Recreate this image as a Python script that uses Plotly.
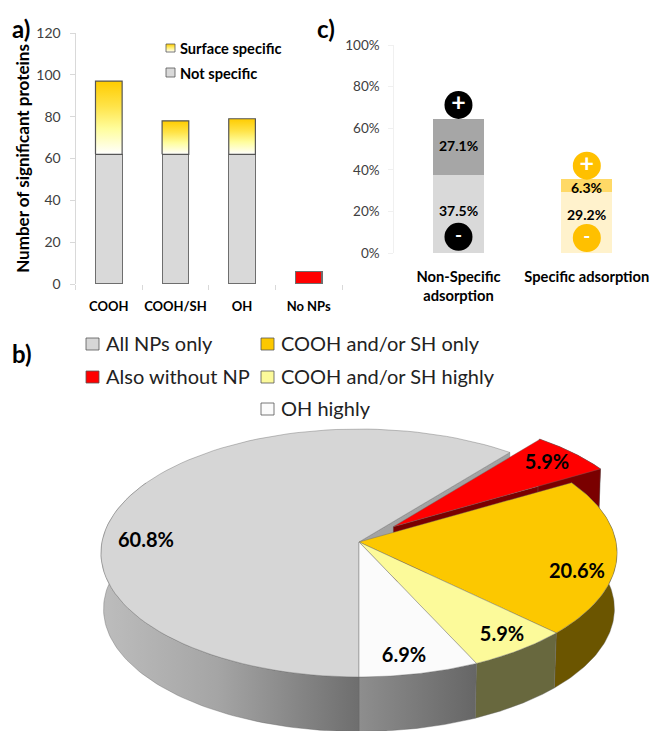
import numpy as np
import plotly.graph_objects as go

# ---------- data ----------
groups_a = ["COOH", "COOH/SH", "OH", "No NPs"]
not_specific = [62, 62, 62, 0]
surface_specific = [35, 16, 17, 0]
without_np = [0, 0, 0, 6]

groups_c = ["Non-Specific<br>adsorption", "Specific adsorption"]
low_part = [37.5, 29.2]
high_part = [27.1, 6.3]
low_colors = ["#D9D9D9", "#FFF2CC"]
high_colors = ["#A6A6A6", "#FFD966"]
circle_colors = ["#000000", "#FFC000"]

pie_names = ["All NPs only", "Also without NP", "COOH and/or SH only", "COOH and/or SH highly", "OH highly"]
pie_values = [60.8, 5.9, 20.6, 5.9, 6.9]
pie_colors = ["#D6D6D6", "#FF0000", "#FCC800", "#FCFA9A", "#FBFBFB"]

FONT = "Lato"
W, H = 651, 731
fig = go.Figure()

def fx(p): return p / W
def fy(p): return 1 - p / H

# ---------- panel a ----------
BW = 0.4
fig.add_trace(go.Bar(x=[0, 1, 2, 3], y=not_specific, width=BW, xaxis="x", yaxis="y", name="Not specific",
                     marker=dict(color="#D9D9D9", line=dict(color="#6E6E6E", width=1.2)), showlegend=False))
fig.add_trace(go.Bar(x=[0, 1, 2, 3], y=without_np, width=BW, xaxis="x", yaxis="y", name="Also without NP",
                     marker=dict(color="#FF0000", line=dict(color="#6E6E6E", width=1.2)), showlegend=False))
GRAD = [[0, "#FFFFFF"], [0.35, "#FFFD9C"], [0.65, "#FFE44A"], [1, "#FFCC00"]]
for i, (base, s) in enumerate(zip(not_specific, surface_specific)):
    if s <= 0:
        continue
    fig.add_trace(go.Scatter(
        x=[i - BW / 2, i + BW / 2, i + BW / 2, i - BW / 2, i - BW / 2],
        y=[base, base, base + s, base + s, base],
        mode="lines", fill="toself", xaxis="x", yaxis="y", name="Surface specific",
        fillgradient=dict(type="vertical", colorscale=GRAD),
        line=dict(color="#555555", width=1.2), hoverinfo="skip", showlegend=False))

# ---------- panel c ----------
fig.add_trace(go.Bar(x=[0, 1], y=low_part, width=BW, xaxis="x2", yaxis="y2", marker=dict(color=low_colors, line=dict(width=0)), showlegend=False))
fig.add_trace(go.Bar(x=[0, 1], y=high_part, width=BW, base=low_part, xaxis="x2", yaxis="y2", marker=dict(color=high_colors, line=dict(width=0)), showlegend=False))
circle_x = [0, 1, 0, 1]
circle_y = [71.2, 42, 7.8, 7.2]
circle_t = ["+", "+", "-", "-"]
fig.add_trace(go.Scatter(x=circle_x, y=circle_y, mode="markers+text", xaxis="x2", yaxis="y2",
                         marker=dict(size=28, color=[circle_colors[0], circle_colors[1]] * 2, line=dict(width=0)),
                         text=circle_t, textposition="middle center",
                         textfont=dict(family="Lato", size=[25, 25, 19, 19], color="white", weight="bold"),
                         hoverinfo="skip", showlegend=False))

# ---------- page-wide axes: legends and pie ----------
CX, CY, A, B, K = 359.0, 542.0, 257.0, 123.0, 0.0887
DEPTH, SHRINK = 56.0, 0.99

def rim(th, ox=CX, oy=CY, s=1.0, dy=0.0):
    t = np.radians(th)
    u, v = np.sin(t), np.cos(t)
    d = 1 + K * v
    return ox + s * A * u / d, oy - s * B * v / d + dy

def page_poly(xs, ys, color=None, grad=None, line="#666666", lw=0.4):
    kw = dict(fillgradient=grad) if grad else dict(fillcolor=color)
    fig.add_trace(go.Scatter(x=list(xs), y=list(ys), mode="lines", fill="toself", xaxis="x3", yaxis="y3",
                             line=dict(color=line, width=lw), hoverinfo="skip", showlegend=False, **kw))

def arc(t0, t1, **k):
    th = np.linspace(t0, t1, 90)
    return rim(th, **k)

def wedge(t0, t1, ox=CX, oy=CY, s=1.0, color=None):
    x, y = arc(t0, t1, ox=ox, oy=oy, s=s)
    page_poly(np.r_[ox, x, ox], np.r_[oy, y, oy], color=color)

def side(t0, t1, color=None, grad=None, ox=CX, oy=CY, s=1.0):
    x1, y1 = arc(t0, t1, ox=ox, oy=oy, s=s)
    x2, y2 = arc(t1, t0, ox=ox, oy=oy, s=s * SHRINK, dy=DEPTH)
    page_poly(np.r_[x1, x2, x1[0]], np.r_[y1, y2, y1[0]], color=color, grad=grad)

def radial(th, color, ox=CX, oy=CY, s=1.0):
    x, y = rim(th, ox=ox, oy=oy, s=s)
    x2, y2 = rim(th, ox=ox, oy=oy, s=s * SHRINK, dy=DEPTH)
    page_poly([ox, x, x2, ox, ox], [oy, y, y2, oy + DEPTH, oy], color=color, lw=0.3)

deg = [v * 3.6 for v in pie_values]
white_end = 180.0
white_start = white_end - deg[4]
yellow_start = white_start - deg[3]
gold_start = yellow_start - deg[2]
red_start = gold_start - deg[1]
gray_end = white_end + deg[0]

# exploded slice reference
RX, RY, RS = 393.3, 526.7, 0.975

radial(gray_end, "#A3A3A3")
radial(gold_start, "#7A0000", ox=RX, oy=RY, s=RS)
side(red_start, gold_start, color="#7A0000", ox=RX, oy=RY, s=RS)
wedge(red_start, gold_start, ox=RX, oy=RY, s=RS, color=pie_colors[1])
side(gold_start, yellow_start, color="#6B5500")
side(yellow_start, white_start, color="#68683E")
side(white_start, white_end,
     grad=dict(type="horizontal", colorscale=[[0, "#8E8E8E"], [1, "#666666"]]))
side(white_end, 300,
     grad=dict(type="horizontal", colorscale=[[0, "#BDBDBD"], [0.45, "#A5A5A5"], [1, "#6E6E6E"]]))
wedge(white_end, gray_end, color=pie_colors[0])
wedge(gold_start, yellow_start, color=pie_colors[2])
wedge(yellow_start, white_start, color=pie_colors[3])
wedge(white_start, white_end, color=pie_colors[4])

pie_label_x = [146, 547, 577, 502, 404]
pie_label_y = [542, 464, 573, 636, 657]
fig.add_trace(go.Scatter(x=pie_label_x, y=pie_label_y, mode="text", xaxis="x3", yaxis="y3",
                         text=[f"{v:.1f}%" for v in pie_values], textposition="middle center",
                         textfont=dict(family=FONT, size=20, color="black", weight="bold"),
                         hoverinfo="skip", showlegend=False))

# swatches
def swatch(x0, y0, x1, y1, color=None, grad=None, line="#555555"):
    page_poly([x0, x1, x1, x0, x0], [y0, y0, y1, y1, y0], color=color, grad=grad, line=line, lw=0.8)

swatch(166, 44, 175, 52, grad=dict(type="vertical", colorscale=[[0, "#FFFFFF"], [0.5, "#FFF07A"], [1, "#FFCC00"]]))
swatch(166, 68, 175, 77, color="#D9D9D9")
bx = [86, 86, 261, 261, 261]
by = [338, 371, 338, 371, 403]
order = [0, 1, 2, 3, 4]
for i in order:
    swatch(bx[i], by[i], bx[i] + 13, by[i] + 12, color=pie_colors[i])

# ---------- text ----------
ann = []
def note(x, y, text, size, bold=False, anchor="left", color="black"):
    ann.append(dict(x=fx(x), y=fy(y), xref="paper", yref="paper", text=text, showarrow=False, xanchor=anchor,
                    yanchor="middle", align=anchor, borderpad=0,
                    font=dict(family=FONT, size=size, color=color, weight="bold" if bold else "normal")))

note(11, 29, "a)", 24, True)
note(316, 28, "c)", 24, True)
note(11, 353, "b)", 24, True)
note(179, 48, "Surface specific", 14.6, True)
note(179, 73, "Not specific", 14.6, True)
for i in order:
    note(bx[i] + 19, by[i] + 5, pie_names[i], 20, False, color="#222222")

# value labels of panel c, from the stack values
c_shift = [[4, 8], [1, -2]]
for i in range(2):
    lm = low_part[i] / 2
    hm = low_part[i] + high_part[i] / 2
    for y, v, sh in ((lm, low_part[i], c_shift[0][i]), (hm, high_part[i], c_shift[1][i])):
        ann.append(dict(x=i, y=y, xref="x2", yref="y2", text=f"{v:.1f}%", showarrow=False, yshift=sh,
                        font=dict(family=FONT, size=14, color="black", weight="bold")))

AXC = "#D9D9D9"
TICK = dict(family=FONT, size=14, color="#404040")
fig.update_layout(
    width=W, height=H, margin=dict(l=0, r=0, t=0, b=0), autosize=False,
    paper_bgcolor="white", plot_bgcolor="rgba(0,0,0,0)", barmode="stack", annotations=ann,
    xaxis=dict(domain=[fx(75.5), fx(342)], range=[-0.5, 3.5], anchor="y", tickmode="array", automargin=False,
               tickvals=[0, 1, 2, 3], ticktext=groups_a, ticks="outside", ticklen=10, tickcolor="rgba(0,0,0,0)",
               tickfont=dict(family=FONT, size=13, color="black", weight="bold"), showgrid=False, zeroline=False,
               showline=False,
               minor=dict(tickmode="array", tickvals=[-0.5, 0.5, 1.5, 2.5, 3.5], ticks="outside", ticklen=5,
                          tickcolor=AXC, showgrid=False)),
    yaxis=dict(domain=[fy(284), fy(33)], range=[0, 120], anchor="x", dtick=20, ticks="outside", ticklen=5,
               tickcolor=AXC, showline=True, linecolor=AXC, showgrid=False, zeroline=False, tickfont=TICK,
               automargin=False, ticklabelstandoff=6,
               title=dict(text="Number of significant proteins", standoff=2,
                          font=dict(family=FONT, size=17, color="black", weight="bold"))),
    xaxis2=dict(domain=[fx(394.3), 1], range=[-0.5, 1.5], anchor="y2", tickmode="array", tickvals=[0, 1],
                ticktext=groups_c, ticks="outside", ticklen=10, tickcolor="rgba(0,0,0,0)", showgrid=False,
                zeroline=False, showline=False, automargin=False,
                tickfont=dict(family=FONT, size=14.7, color="black", weight="bold")),
    yaxis2=dict(domain=[fy(253), fy(45)], range=[0, 100], anchor="x2", dtick=20, ticksuffix="%", ticks="outside",
                ticklen=5, tickcolor="#F0F0F0", showline=True, linecolor="#F0F0F0", showgrid=False, zeroline=False,
                tickfont=dict(family=FONT, size=13.5, color="#404040"), automargin=False, ticklabelstandoff=6),
    xaxis3=dict(domain=[0, 1], range=[0, W], anchor="y3", visible=False, fixedrange=True, automargin=False),
    yaxis3=dict(domain=[0, 1], range=[H, 0], anchor="x3", visible=False, fixedrange=True, automargin=False),
)
fig.write_html("out.html", config={"displayModeBar": False},
               post_script="document.body.style.margin='0';document.documentElement.style.overflow='hidden';")
